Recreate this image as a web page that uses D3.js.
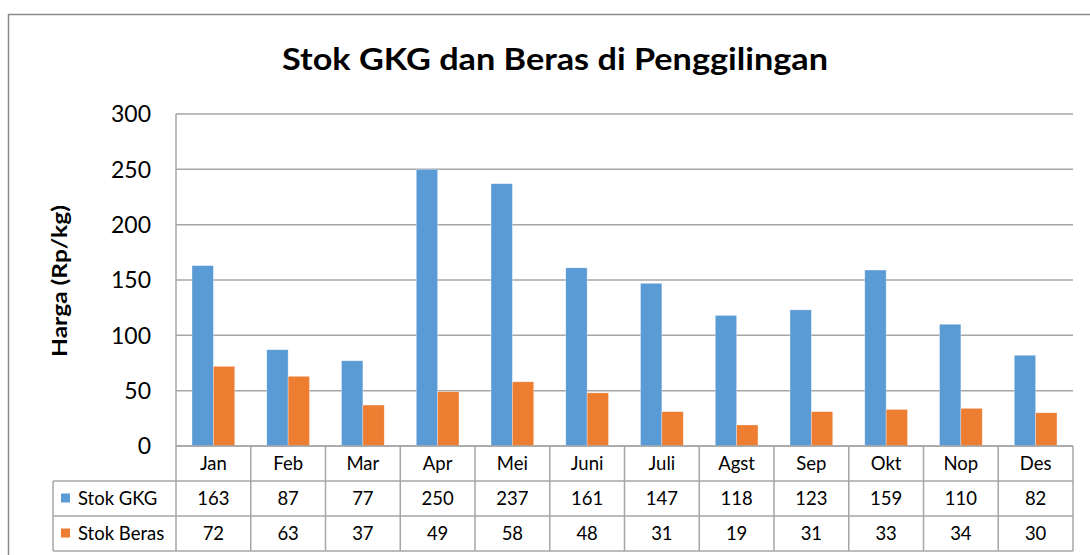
<!DOCTYPE html>
<html><head><meta charset="utf-8">
<script src="https://cdn.jsdelivr.net/npm/d3@7"></script>
<style>body{margin:0;background:#fff}svg{display:block}text{font-family:Lato,"Open Sans",sans-serif;fill:#000}</style>
</head><body>
<svg id="c" width="1090" height="555"></svg>
<script>
const categories=["Jan","Feb","Mar","Apr","Mei","Juni","Juli","Agst","Sep","Okt","Nop","Des"];
const stokGKG=[163,87,77,250,237,161,147,118,123,159,110,82];
const stokBeras=[72,63,37,49,58,48,31,19,31,33,34,30];
const seriesNames=["Stok GKG","Stok Beras"];
const seriesColors=["#5B9BD5","#ED7D31"];
const yTicks=[0,50,100,150,200,250,300];
const titleText="Stok GKG dan Beras di Penggilingan";
const yLabel="Harga (Rp/kg)";

const svg=d3.select("#c");
const L=176,R=1073,T=114,B=446;
const grid="#A6A6A6";
// outer frame
svg.append("rect").attr("x",8.5).attr("y",14.5).attr("width",1200).attr("height",700)
  .attr("fill","#fff").attr("stroke","#8a8a8a").attr("stroke-width",1.5);

const x=d3.scaleBand().domain(categories).range([L,R]).paddingInner(0).paddingOuter(0);
const y=d3.scaleLinear().domain([0,300]).range([B,T]);

// gridlines
svg.append("g").selectAll("line").data(yTicks).join("line")
  .attr("x1",L).attr("x2",R).attr("y1",d=>y(d)).attr("y2",d=>y(d))
  .attr("stroke",grid).attr("stroke-width",1.5);
// y axis line
svg.append("line").attr("x1",L).attr("x2",L).attr("y1",T).attr("y2",B).attr("stroke",grid).attr("stroke-width",1.5);

// y tick labels via axis
const ya=svg.append("g").attr("transform",`translate(${L},0)`).call(d3.axisLeft(y).tickValues(yTicks).tickSize(0).tickPadding(25));
ya.select(".domain").remove();
ya.selectAll("text").attr("font-family","Lato").attr("font-size",23).attr("fill","#000").attr("dy","0.34em");

// bars
const data=[stokGKG,stokBeras];
const bw=x.bandwidth()/(2+1.5);
data.forEach((vals,si)=>{
  svg.append("g").selectAll("rect").data(vals).join("rect")
    .attr("x",(d,i)=>x(categories[i])+bw*0.75+si*bw)
    .attr("width",bw)
    .attr("y",d=>y(d)).attr("height",d=>y(0)-y(d))
    .attr("fill",seriesColors[si]).attr("stroke","#ffffff").attr("stroke-opacity",0.5).attr("stroke-width",0.6);
});

// title
svg.append("text").attr("x",555).attr("y",70).attr("text-anchor","middle")
  .attr("font-size",31).attr("font-weight","bold").attr("textLength",546).attr("lengthAdjust","spacingAndGlyphs").text(titleText);
// y label
svg.append("text").attr("transform","translate(67,281) rotate(-90)").attr("text-anchor","middle")
  .attr("font-size",20).attr("font-weight","bold").attr("textLength",152).attr("lengthAdjust","spacingAndGlyphs").text(yLabel);

// data table
const rows=[B,481,516,551];
const tg=svg.append("g");
const lineAttr=s=>s.attr("stroke",grid).attr("stroke-width",1.5);
lineAttr(tg.append("line").attr("x1",L).attr("x2",R).attr("y1",rows[0]).attr("y2",rows[0]));
[1,2,3].forEach(k=>lineAttr(tg.append("line").attr("x1",53).attr("x2",R).attr("y1",rows[k]).attr("y2",rows[k])));
categories.forEach(c=>lineAttr(tg.append("line").attr("x1",x(c)).attr("x2",x(c)).attr("y1",rows[0]).attr("y2",rows[3])));
lineAttr(tg.append("line").attr("x1",R).attr("x2",R).attr("y1",rows[0]).attr("y2",rows[3]));
lineAttr(tg.append("line").attr("x1",53).attr("x2",53).attr("y1",rows[1]).attr("y2",rows[3]));
tg.selectAll("text.cat").data(categories).join("text").attr("class","cat")
  .attr("x",d=>x(d)+x.bandwidth()/2).attr("y",(rows[0]+rows[1])/2).attr("dy","0.36em")
  .attr("text-anchor","middle").attr("font-size",18.5).text(d=>d);
data.forEach((vals,si)=>{
  const yc=(rows[si+1]+rows[si+2])/2;
  tg.append("rect").attr("x",61).attr("y",yc-5).attr("width",9).attr("height",9).attr("fill",seriesColors[si]);
  tg.append("text").attr("x",78).attr("y",yc).attr("dy","0.36em").attr("font-size",18.5).text(seriesNames[si]);
  tg.append("g").selectAll("text").data(vals).join("text")
    .attr("x",(d,i)=>x(categories[i])+x.bandwidth()/2).attr("y",yc).attr("dy","0.36em")
    .attr("text-anchor","middle").attr("font-size",18.5).text(d=>d);
});
</script>
</body></html>
